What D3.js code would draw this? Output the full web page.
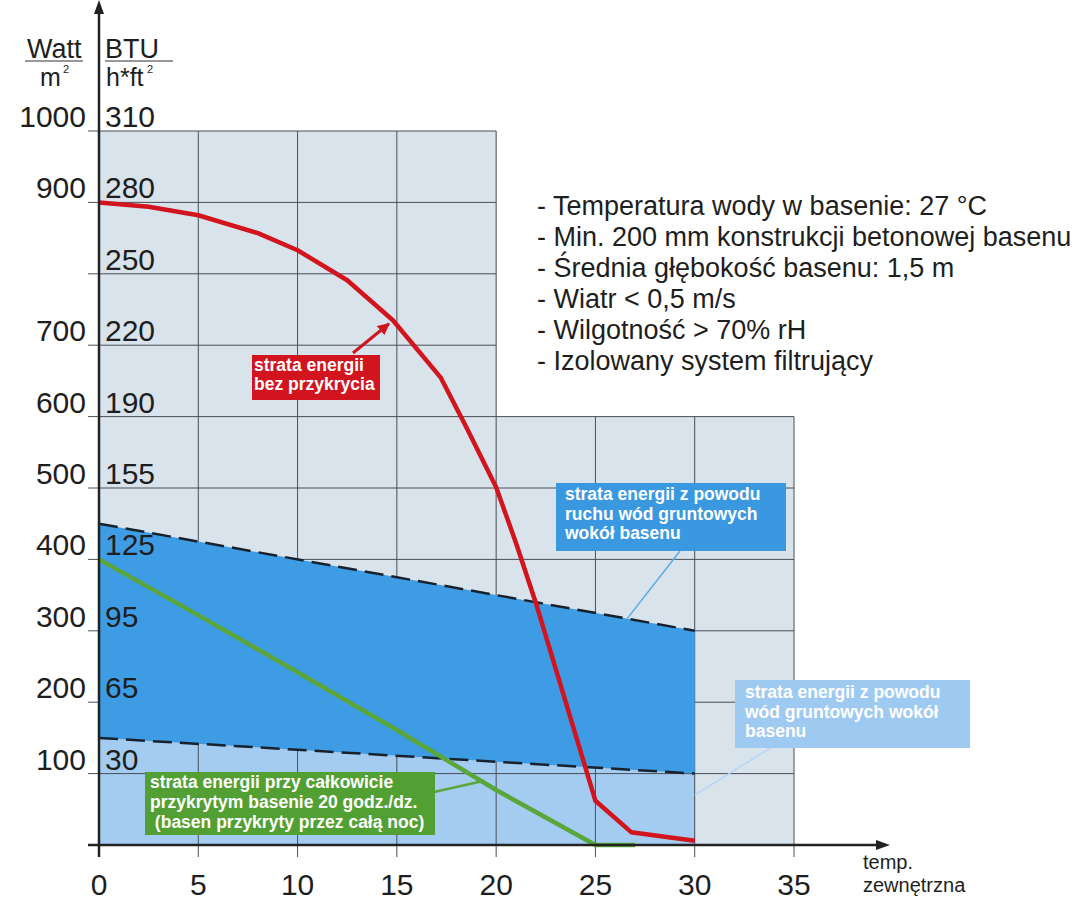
<!DOCTYPE html>
<html>
<head>
<meta charset="utf-8">
<script src="https://cdn.jsdelivr.net/npm/d3@7"></script>
<style>
    body { margin: 0; background: #fff; }
    text { font-family: "Liberation Sans", Arial, sans-serif; }
</style>
</head>
<body>
<script>
const width = 1088;
const height = 902;

// data
const xTicks = [0, 5, 10, 15, 20, 25, 30, 35];
const wattLevels = [100, 200, 300, 400, 500, 600, 700, 800, 900, 1000];
const wattLabels = ["100", "200", "300", "400", "500", "600", "700", "", "900", "1000"];
const btuLabels = ["30", "65", "95", "125", "155", "190", "220", "250", "280", "310"];

// grey background: full height up to 20 °C, then up to 600
const backStep = [[0, 1000], [20, 1000], [20, 600], [35, 600], [35, 0], [0, 0]];

const redLoss = [
    [0, 900], [2.5, 894], [5, 882], [8, 857], [10, 833], [12.5, 791],
    [14.8, 735], [17.2, 655], [18.5, 585], [20, 501], [21, 423], [22, 339],
    [25, 62], [26.8, 18], [30, 6]
];
const greenLoss = [[0, 400], [5, 322], [10, 242], [15, 161], [20, 77], [25, 0], [27, 0]];
const upperDash = [[0, 450], [30, 300]];
const lowerDash = [[0, 150], [30, 100]];

const notes = [
    "- Temperatura wody w basenie: 27 °C",
    "- Min. 200 mm konstrukcji betonowej basenu",
    "- Średnia głębokość basenu: 1,5 m",
    "- Wiatr < 0,5 m/s",
    "- Wilgotność > 70% rH",
    "- Izolowany system filtrujący"
];

const svg = d3
    .select("body")
    .append("svg")
    .attr("width", width)
    .attr("height", height);

const x = d3.scaleLinear().domain([0, 35]).range([99, 794]);
const y = d3.scaleLinear().domain([0, 1000]).range([845, 131]);

const gridColour = "#4a4f57";
const textColour = "#1e1e1e";

// background
svg.append("path")
    .attr("d", d3.line().x((d) => x(d[0])).y((d) => y(d[1]))(backStep) + "Z")
    .attr("fill", "#d9e3ec");

// light blue area under lower dashed line
svg.append("path")
    .datum(lowerDash)
    .attr("d", d3.area().x((d) => x(d[0])).y0(y(0)).y1((d) => y(d[1])))
    .attr("fill", "#a3ccf0");

// grid
const grid = svg.append("g").attr("stroke", gridColour).attr("stroke-width", 1);
wattLevels.forEach((w) => {
    const xEnd = w > 600 ? 20 : 35;
    grid.append("line")
        .attr("x1", x(0) - 11).attr("x2", x(xEnd))
        .attr("y1", y(w)).attr("y2", y(w));
});
xTicks.slice(1).forEach((t) => {
    const top = t > 20 ? 600 : 1000;
    grid.append("line")
        .attr("x1", x(t)).attr("x2", x(t))
        .attr("y1", y(top)).attr("y2", y(0) + 12);
});

// dark blue band between dashed lines
svg.append("path")
    .datum(upperDash)
    .attr("d", d3.area()
        .x((d) => x(d[0]))
        .y0((d, i) => y(lowerDash[i][1]))
        .y1((d) => y(d[1])))
    .attr("fill", "#3e9ce5");

[upperDash, lowerDash].forEach((ln) => {
    svg.append("path")
        .datum(ln)
        .attr("d", d3.line().x((d) => x(d[0])).y((d) => y(d[1])))
        .attr("fill", "none")
        .attr("stroke", "#18222f")
        .attr("stroke-width", 2.5)
        .attr("stroke-dasharray", "19,8");
});

const lineGen = d3.line().x((d) => x(d[0])).y((d) => y(d[1]));

svg.append("path")
    .datum(greenLoss)
    .attr("d", lineGen)
    .attr("fill", "none")
    .attr("stroke", "#5ba63a")
    .attr("stroke-width", 4.5);

svg.append("path")
    .datum(redLoss)
    .attr("d", lineGen)
    .attr("fill", "none")
    .attr("stroke", "#d1141d")
    .attr("stroke-width", 4.5)
    .attr("stroke-linejoin", "round");

// annotation boxes
function labelBox(box, lines, fill) {
    svg.append("rect")
        .attr("x", box.x).attr("y", box.y)
        .attr("width", box.w).attr("height", box.h)
        .attr("fill", fill);
    svg.append("g")
        .selectAll("text")
        .data(lines)
        .enter()
        .append("text")
        .attr("x", box.x + box.pad)
        .attr("y", (d, i) => box.y + box.first + i * box.step)
        .attr("fill", "#fff")
        .attr("font-weight", "bold")
        .attr("font-size", "17.5px")
        .attr("xml:space", "preserve")
        .text((d) => d);
}

function leader(from, to, colour, w) {
    svg.append("line")
        .attr("x1", from[0]).attr("y1", from[1])
        .attr("x2", x(to[0])).attr("y2", y(to[1]))
        .attr("stroke", colour)
        .attr("stroke-width", w);
}

// blue leaders
leader([680, 551], [26.6, 450 - 5 * 26.6], "#5aaae6", 1.5);
leader([772, 747], [30, 70], "#b4d6f4", 1.5);
// green leader
leader([434, 792], [19.4, 90], "#5ba63a", 2.5);

labelBox({ x: 556, y: 483, w: 230, h: 68, pad: 9, first: 17, step: 19.5 },
    ["strata energii z powodu", "ruchu wód gruntowych", "wokół basenu"], "#3a98e0");
labelBox({ x: 735, y: 680, w: 235, h: 68, pad: 10, first: 18, step: 19.5 },
    ["strata energii z powodu", "wód gruntowych wokół", "basenu"], "#9ecaf1");
labelBox({ x: 145, y: 772, w: 290, h: 63, pad: 5, first: 16, step: 20 },
    ["strata energii przy całkowicie", "przykrytym basenie 20 godz./dz.", " (basen przykryty przez całą noc)"], "#52a033");
labelBox({ x: 252, y: 355, w: 128, h: 45, pad: 2, first: 16, step: 18.5 },
    ["strata energii", "bez przykrycia"], "#d1141d");

// red arrow to curve
svg.append("defs")
    .append("marker")
    .attr("id", "redHead")
    .attr("viewBox", "0 0 10 10")
    .attr("refX", 9).attr("refY", 5)
    .attr("markerWidth", 4).attr("markerHeight", 4)
    .attr("orient", "auto")
    .append("path")
    .attr("d", "M0,0 L10,5 L0,10 Z")
    .attr("fill", "#d1141d");
svg.append("line")
    .attr("x1", 353).attr("y1", 353)
    .attr("x2", x(14.6)).attr("y2", y(730))
    .attr("stroke", "#d1141d")
    .attr("stroke-width", 3)
    .attr("marker-end", "url(#redHead)");

// axes with arrows
const axisColour = "#222";
svg.append("line")
    .attr("x1", x(0)).attr("x2", x(0))
    .attr("y1", y(0) + 12).attr("y2", 10)
    .attr("stroke", axisColour).attr("stroke-width", 2.5);
svg.append("path")
    .attr("d", `M${x(0)},0 L${x(0) - 5},14 L${x(0) + 5},14 Z`)
    .attr("fill", axisColour);
svg.append("line")
    .attr("x1", x(0) - 11).attr("x2", 880)
    .attr("y1", y(0)).attr("y2", y(0))
    .attr("stroke", axisColour).attr("stroke-width", 2.5);
svg.append("path")
    .attr("d", `M890,${y(0)} L876,${y(0) - 5} L876,${y(0) + 5} Z`)
    .attr("fill", axisColour);

// x tick labels
svg.append("g")
    .selectAll("text")
    .data(xTicks)
    .enter()
    .append("text")
    .attr("x", (d) => x(d))
    .attr("y", 895)
    .attr("text-anchor", "middle")
    .attr("font-size", "30px")
    .attr("fill", textColour)
    .text((d) => d);

svg.append("text").attr("x", 863).attr("y", 869)
    .attr("font-size", "20px").attr("fill", textColour).text("temp.");
svg.append("text").attr("x", 863).attr("y", 892)
    .attr("font-size", "20px").attr("fill", textColour).text("zewnętrzna");

// y tick labels, both units
svg.append("g")
    .selectAll("text")
    .data(wattLevels)
    .enter()
    .append("text")
    .attr("x", 86)
    .attr("y", (d) => y(d) - 4)
    .attr("text-anchor", "end")
    .attr("font-size", "30px")
    .attr("fill", textColour)
    .text((d, i) => wattLabels[i]);

svg.append("g")
    .selectAll("text")
    .data(wattLevels)
    .enter()
    .append("text")
    .attr("x", 105)
    .attr("y", (d) => y(d) - 4)
    .attr("font-size", "30px")
    .attr("fill", textColour)
    .text((d, i) => btuLabels[i]);

// unit headers
svg.append("text").attr("x", 27).attr("y", 58)
    .attr("font-size", "27px").attr("fill", textColour).text("Watt");
svg.append("line").attr("x1", 25).attr("x2", 83).attr("y1", 61).attr("y2", 61)
    .attr("stroke", "#333").attr("stroke-width", 1);
svg.append("text").attr("x", 40).attr("y", 86)
    .attr("font-size", "25px").attr("fill", textColour).text("m");
svg.append("text").attr("x", 63).attr("y", 73)
    .attr("font-size", "11px").attr("fill", textColour).text("2");

svg.append("text").attr("x", 105).attr("y", 58)
    .attr("font-size", "27px").attr("fill", textColour).text("BTU");
svg.append("line").attr("x1", 105).attr("x2", 173).attr("y1", 61).attr("y2", 61)
    .attr("stroke", "#333").attr("stroke-width", 1);
svg.append("text").attr("x", 106).attr("y", 86)
    .attr("font-size", "25px").attr("fill", textColour).text("h*ft");
svg.append("text").attr("x", 147).attr("y", 73)
    .attr("font-size", "11px").attr("fill", textColour).text("2");

// conditions list
svg.append("g")
    .selectAll("text")
    .data(notes)
    .enter()
    .append("text")
    .attr("x", 537)
    .attr("y", (d, i) => 215 + i * 31)
    .attr("font-size", "27px")
    .attr("fill", textColour)
    .text((d) => d);
</script>
</body>
</html>
